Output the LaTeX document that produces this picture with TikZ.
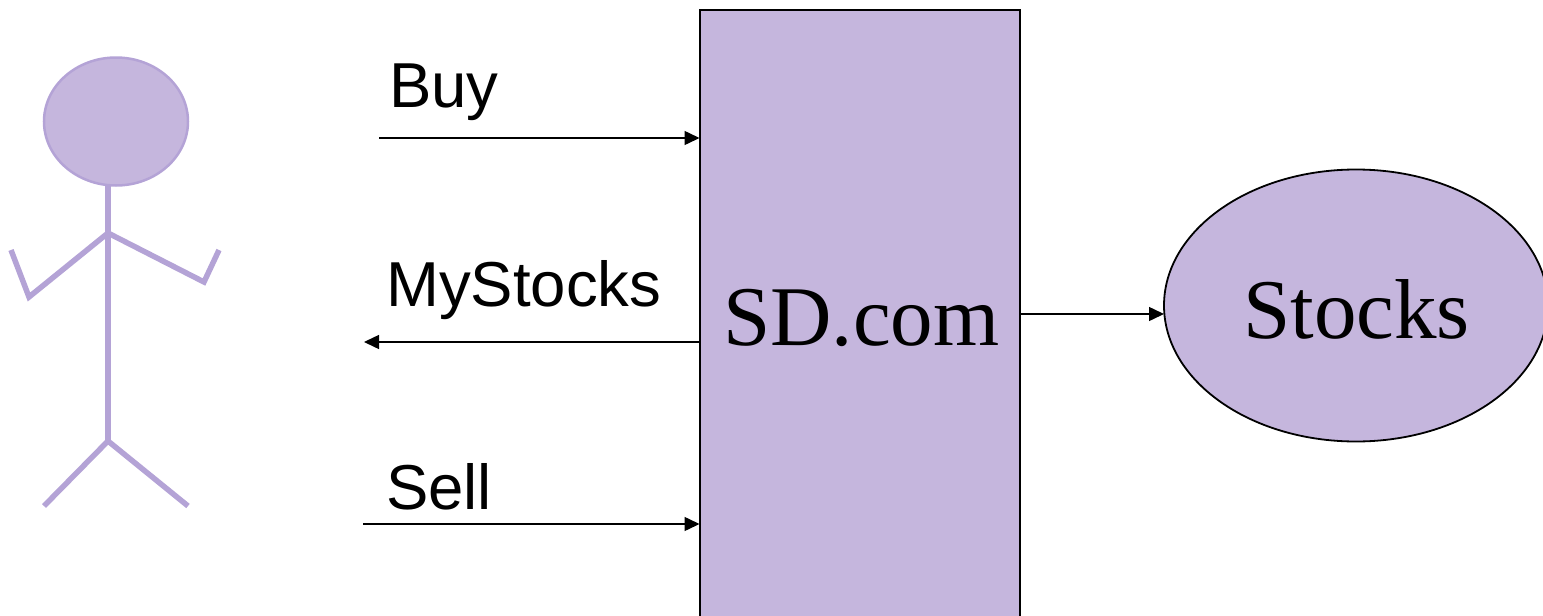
\documentclass[tikz,border=0pt]{standalone}
\usepackage{fontspec}
\setmainfont{Liberation Serif}
\newfontfamily\lblfont{Liberation Sans}
\usetikzlibrary{arrows.meta,shapes.geometric}
\definecolor{lilac}{HTML}{C5B6DD}
\definecolor{limb}{HTML}{B4A3D6}
\tikzset{x=1pt,y=-1pt,
 shapebox/.style={draw=black,fill=lilac,line width=1.8pt,inner sep=0pt,outer sep=0pt},
 conn/.style={draw=black,line width=1.5pt,-{Triangle[length=15pt,width=14pt]}},
 lbl/.style={font=\lblfont\fontsize{63.5}{63.5}\selectfont,anchor=base west,inner sep=0pt,text=black},
 big/.style={font=\fontsize{85}{85}\selectfont,inner sep=0pt,text=black},
 stick/.style={draw=limb,line width=5.5pt}}
\begin{document}
\begin{tikzpicture}
\useasboundingbox (0,0) rectangle (1543,616);
\begin{scope}
\clip (0,0) rectangle (1543,616);
\node[shapebox,minimum width=320pt,minimum height=640pt,anchor=north west] (sd) at (700,10) {};
\node[shapebox,ellipse,minimum width=384pt,minimum height=272pt] (st) at (1356,305.5) {};
\end{scope}
\node[big,anchor=base west] (sdt) at (723,345) {SD.com};
\node[big,anchor=base west] (stt) at (1243,338) {Stocks};
% stick figure
\node[ellipse,draw=limb,fill=lilac,line width=2.5pt,minimum width=144pt,minimum height=128pt,inner sep=0pt,outer sep=0pt] (head) at (116,121.5) {};
\coordinate (neck) at (108,233);
\coordinate (hip) at (108,441);
\draw[stick] (108,185) -- (hip);
\draw[stick] (11,250) -- (29,297) -- (neck) -- (204,282) -- (219,250);
\draw[stick] (44,506) -- (hip) -- (188,506);
% connectors
\coordinate (b0) at (379,138);
\coordinate (b1) at (699.5,138);
\coordinate (m0) at (700,342);
\coordinate (m1) at (364,342);
\coordinate (s0) at (363,524);
\coordinate (s1) at (699.5,524);
\coordinate (o0) at (1020,314);
\coordinate (o1) at (1164,314);
\draw[conn] (b0) -- (b1);
\draw[conn] (m0) -- (m1);
\draw[conn] (s0) -- (s1);
\draw[conn] (o0) -- (o1);
\node[lbl] (buy) at (389,107) {Buy};
\node[lbl] (my) at (386,306) {MyStocks};
\node[lbl] (sell) at (386,509) {Sell};
\end{tikzpicture}
\end{document}
